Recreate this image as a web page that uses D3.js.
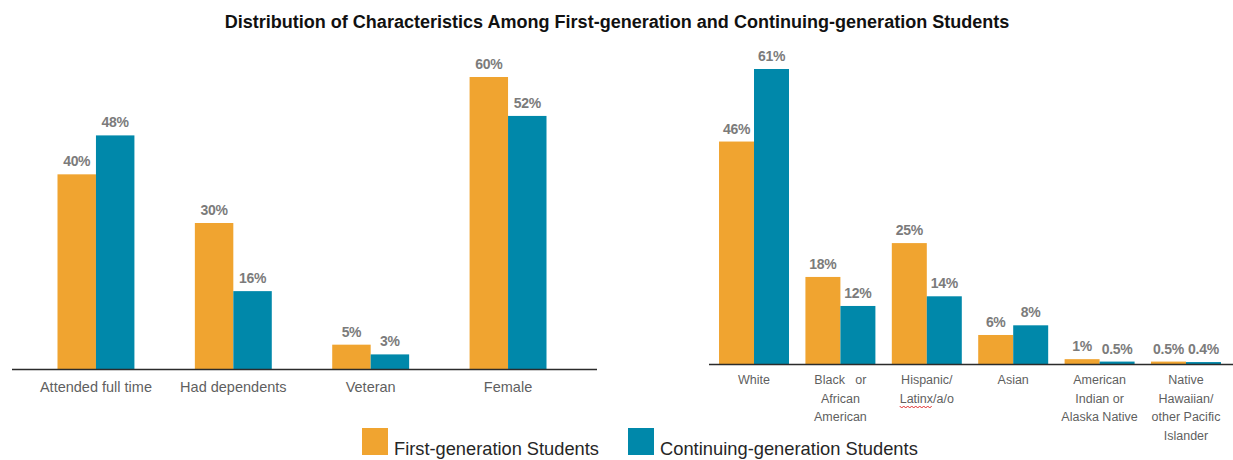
<!DOCTYPE html>
<html>
<head>
<meta charset="utf-8">
<script src="https://cdn.jsdelivr.net/npm/d3@7"></script>
<style>
  html, body { margin: 0; padding: 0; background: #fff; }
  svg { display: block; }
  text { white-space: pre; }
</style>
</head>
<body>
<svg id="chart" width="1233" height="460"></svg>
<script>
// ---- data ----
const seriesNames = ["First-generation Students", "Continuing-generation Students"];
const leftCategories = ["Attended full time", "Had dependents", "Veteran", "Female"];
const leftFirstGen = [40, 30, 5, 60];
const leftContinuing = [48, 16, 3, 52];

const rightCategories = ["White", "Black or African American", "Hispanic/ Latinx/a/o", "Asian",
  "American Indian or Alaska Native", "Native Hawaiian/ other Pacific Islander"];
const rightLabelLines = [
  ["White"],
  ["Black   or", "African", "American"],
  ["Hispanic/", "Latinx/a/o"],
  ["Asian"],
  ["American", "Indian or", "Alaska Native"],
  ["Native", "Hawaiian/", "other Pacific", "Islander"]
];
const rightFirstGen = [46, 18, 25, 6, 1, 0.5];
const rightContinuing = [61, 12, 14, 8, 0.5, 0.4];

const titleText = "Distribution of Characteristics Among First-generation and Continuing-generation Students";

// ---- styles ----
const colors = ["#F0A430", "#0088AA"];
const fontFam = "'Liberation Sans Narrow', 'Liberation Sans', Arial, sans-serif";
const valueColor = "#7b7b7b";
const catColor = "#5f5f5f";

const svg = d3.select("#chart");
const fmt = v => v + "%";

// Fit a text element to a target width by adjusting its font size
function fitWidth(sel, target) {
  const node = sel.node();
  const fs = parseFloat(sel.attr("font-size"));
  const w = node.getComputedTextLength();
  if (w > 0) sel.attr("font-size", (fs * target / w).toFixed(2));
}

// Title
const title = svg.append("text")
  .attr("x", 617).attr("y", 28)
  .attr("text-anchor", "middle")
  .attr("font-family", fontFam)
  .attr("font-weight", "bold")
  .attr("font-size", 17)
  .attr("fill", "#111")
  .text(titleText);
fitWidth(title, 785);

// Draw one grouped-bar panel
function panel(cfg) {
  const g = svg.append("g");
  const x0 = d3.scaleBand().domain(cfg.categories).range(cfg.xRange)
    .paddingInner(cfg.padInner).paddingOuter(cfg.padOuter);
  const x1 = d3.scaleBand().domain([0, 1]).range([0, x0.bandwidth()]);
  const y = d3.scaleLinear().domain([0, cfg.yMax]).range([cfg.baseline, cfg.yTop]);

  const rows = cfg.categories.map((c, i) => ({
    cat: c,
    vals: [cfg.first[i], cfg.cont[i]]
  }));

  const groups = g.selectAll("g.grp").data(rows).join("g")
    .attr("class", "grp")
    .attr("transform", d => `translate(${x0(d.cat)},0)`);

  groups.selectAll("rect").data(d => d.vals.map((v, k) => ({ v, k }))).join("rect")
    .attr("x", d => x1(d.k))
    .attr("width", x1.bandwidth())
    .attr("y", d => y(d.v))
    .attr("height", d => y(0) - y(d.v))
    .attr("fill", d => colors[d.k]);

  groups.selectAll("text.val").data(d => d.vals.map((v, k) => ({ v, k }))).join("text")
    .attr("class", "val")
    .attr("x", d => x1(d.k) + x1.bandwidth() / 2)
    .attr("y", d => y(d.v) - 8)
    .attr("text-anchor", "middle")
    .attr("font-family", fontFam)
    .attr("font-weight", "bold")
    .attr("font-size", cfg.valSize)
    .attr("letter-spacing", -0.3)
    .attr("fill", valueColor)
    .text(d => fmt(d.v));

  // baseline
  g.append("line")
    .attr("x1", cfg.lineRange[0]).attr("x2", cfg.lineRange[1])
    .attr("y1", y(0) + 0.5).attr("y2", y(0) + 0.5)
    .attr("stroke", "#2b2b2b").attr("stroke-width", 1.6);

  // category labels via axis
  const axis = d3.axisBottom(x0).tickSize(0).tickPadding(0).tickFormat(() => "");
  const ax = g.append("g").attr("transform", `translate(0,${y(0)})`).call(axis);
  ax.select(".domain").remove();
  ax.selectAll(".tick").each(function (d, i) {
    const t = d3.select(this).select("text")
      .attr("font-family", fontFam)
      .attr("font-size", cfg.catSize)
      .attr("fill", catColor)
      .attr("dy", null)
      .attr("y", cfg.catOffset);
    const lines = cfg.lines ? cfg.lines[i] : [d];
    t.selectAll("tspan").data(lines).join("tspan")
      .attr("x", 0)
      .attr("dy", (l, j) => j === 0 ? 0 : cfg.lineH)
      .text(l => l);
  });
  return { x0, x1, y, ax };
}

panel({
  categories: leftCategories, first: leftFirstGen, cont: leftContinuing,
  xRange: [27, 577], padInner: 0.44, padOuter: 0.222,
  yMax: 60, baseline: 369, yTop: 77,
  lineRange: [12, 597],
  valSize: 14, catSize: 14.5, catOffset: 23
});

const right = panel({
  categories: rightCategories, first: rightFirstGen, cont: rightContinuing,
  xRange: [709, 1231], padInner: 0.19, padOuter: 0.116,
  yMax: 61, baseline: 364, yTop: 69,
  lineRange: [709, 1233],
  valSize: 14, catSize: 12.5, catOffset: 20, lineH: 18.5,
  lines: rightLabelLines
});

// spell-check style squiggle under "Latinx" in the Hispanic label
{
  const tick = right.ax.selectAll(".tick").filter(d => d === rightCategories[2]);
  const span = tick.selectAll("tspan").filter((l, j) => j === 1);
  const bb = span.node().getBBox();
  const sub = span.node().getSubStringLength(0, 6);
  const x0 = bb.x, x1 = bb.x + sub, yy = bb.y + bb.height + 1;
  const pts = [];
  for (let xx = x0, k = 0; xx <= x1; xx += 2, k++) pts.push([xx, yy + (k % 2 ? 1.5 : -0.5)]);
  tick.append("path")
    .attr("d", d3.line()(pts))
    .attr("fill", "none")
    .attr("stroke", "#e03030")
    .attr("stroke-width", 1);
}

// Legend
const legend = svg.append("g");
const legendItems = [
  { x: 362, name: seriesNames[0], w: 205 },
  { x: 628, name: seriesNames[1], w: 258 }
];
legendItems.forEach((it, k) => {
  legend.append("rect")
    .attr("x", it.x).attr("y", 428)
    .attr("width", 26).attr("height", 27)
    .attr("fill", colors[k]);
  const t = legend.append("text")
    .attr("x", it.x + 32).attr("y", 455)
    .attr("font-family", fontFam)
    .attr("font-size", 19)
    .attr("fill", "#262626")
    .text(it.name);
  fitWidth(t, it.w);
});
</script>
</body>
</html>
